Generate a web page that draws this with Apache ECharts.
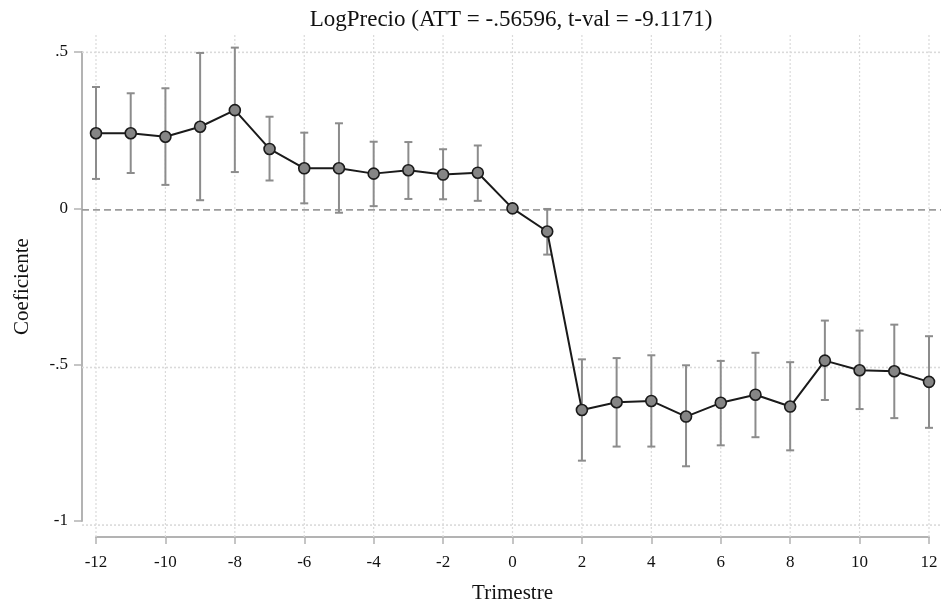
<!DOCTYPE html>
<html>
<head>
<meta charset="utf-8">
<script src="https://cdn.jsdelivr.net/npm/echarts@6/dist/echarts.min.js"></script>
<style>
  html, body { margin: 0; padding: 0; background: #ffffff; }
  #chart { width: 941px; height: 609px; }
</style>
</head>
<body>
<div id="chart"></div>
<script>
// ---- Data ----
const quarters = [-12, -11, -10, -9, -8, -7, -6, -5, -4, -3, -2, -1, 0, 1, 2, 3, 4, 5, 6, 7, 8, 9, 10, 11, 12];
const coef = [0.240, 0.240, 0.229, 0.261, 0.314, 0.190, 0.128, 0.128, 0.111, 0.122, 0.108, 0.114, 0.000, -0.074,
              -0.645, -0.620, -0.616, -0.666, -0.622, -0.596, -0.634, -0.487, -0.518, -0.521, -0.555];
const ciUpper = [0.388, 0.368, 0.384, 0.497, 0.514, 0.293, 0.242, 0.272, 0.213, 0.212, 0.189, 0.201, null, -0.002,
                 -0.483, -0.479, -0.470, -0.502, -0.488, -0.462, -0.492, -0.359, -0.391, -0.372, -0.409];
const ciLower = [0.094, 0.113, 0.075, 0.026, 0.116, 0.089, 0.016, -0.014, 0.007, 0.030, 0.029, 0.024, null, -0.148,
                 -0.807, -0.762, -0.762, -0.825, -0.758, -0.732, -0.774, -0.613, -0.642, -0.671, -0.702];
const xTicks = [-12, -10, -8, -6, -4, -2, 0, 2, 4, 6, 8, 10, 12];
const yTicks = [0.5, 0, -0.5, -1];
const yTickLabels = ['.5', '0', '-.5', '-1'];
const refLine = [0];
const titleText = 'LogPrecio (ATT = -.56596, t-val = -9.1171)';
const xName = 'Trimestre';
const yName = 'Coeficiente';

// ---- Styles ----
const FONT = 'Liberation Serif';
const AXIS_COLOR = '#b3b3b3';
const GRID_COLOR = '#dadada';
const ERR_COLOR = '#8c8c8c';
const LINE_COLOR = '#1a1a1a';

const errData = [];
quarters.forEach((q, i) => {
  if (ciUpper[i] !== null && ciLower[i] !== null) errData.push([q, ciUpper[i], ciLower[i]]);
});
const lineData = quarters.map((q, i) => [q, coef[i]]);
const vGridData = xTicks.map(v => [v, 0]);
const hGridData = yTicks.filter(v => refLine.indexOf(v) < 0).map(v => [0, v]);
const zeroData = refLine.map(v => [0, v]);

function vLineRender(params, api) {
  const cs = params.coordSys;
  const p = api.coord([api.value(0), api.value(1)]);
  return { type: 'line', shape: { x1: p[0], y1: cs.y, x2: p[0], y2: cs.y + cs.height },
           style: { stroke: GRID_COLOR, lineWidth: 1.2, lineDash: [2, 2] } };
}
function hLineRenderFactory(color, width, dash) {
  return function (params, api) {
    const cs = params.coordSys;
    const p = api.coord([api.value(0), api.value(1)]);
    return { type: 'line', shape: { x1: cs.x, y1: p[1], x2: cs.x + cs.width, y2: p[1] },
             style: { stroke: color, lineWidth: width, lineDash: dash } };
  };
}
function errRender(params, api) {
  const x = api.value(0), hi = api.value(1), lo = api.value(2);
  const t = api.coord([x, hi]), b = api.coord([x, lo]);
  const hw = 4;
  const st = { stroke: ERR_COLOR, lineWidth: 2 };
  return { type: 'group', children: [
    { type: 'line', shape: { x1: t[0], y1: t[1], x2: b[0], y2: b[1] }, style: st },
    { type: 'line', shape: { x1: t[0] - hw, y1: t[1], x2: t[0] + hw, y2: t[1] }, style: st },
    { type: 'line', shape: { x1: b[0] - hw, y1: b[1], x2: b[0] + hw, y2: b[1] }, style: st }
  ]};
}

const chart = echarts.init(document.getElementById('chart'), null, { renderer: 'canvas' });
chart.setOption({
  animation: false,
  backgroundColor: '#ffffff',
  title: {
    text: titleText, left: 511, top: 8, padding: 0, textAlign: 'center',
    textStyle: { fontFamily: FONT, fontSize: 23, fontWeight: 'normal', color: '#111' }
  },
  grid: [
    { left: 96, right: 12, top: 52, bottom: 84 },        // data / axes
    { left: 82, right: 0, top: 35, bottom: 71 }          // full plot region (grid lines)
  ],
  xAxis: [
    {
      type: 'value', gridIndex: 0, min: -12, max: 12, interval: 2, offset: 16, position: 'bottom',
      name: xName, nameLocation: 'middle', nameGap: 46,
      nameTextStyle: { fontFamily: FONT, fontSize: 21, color: '#111' },
      axisLine: { show: true, onZero: false, lineStyle: { color: AXIS_COLOR, width: 2 } },
      axisTick: { show: true, length: 7, lineStyle: { color: AXIS_COLOR, width: 1.5 } },
      axisLabel: { margin: 17, fontFamily: FONT, fontSize: 17, color: '#111' },
      splitLine: { show: false }
    },
    {
      type: 'value', gridIndex: 1, min: -12.403, max: 12.346, show: false,
      splitLine: { show: false }
    }
  ],
  yAxis: [
    {
      type: 'value', gridIndex: 0, min: -1, max: 0.5, interval: 0.5, offset: 14, position: 'left',
      name: yName, nameLocation: 'middle', nameGap: 49,
      nameTextStyle: { fontFamily: FONT, fontSize: 21, color: '#111' },
      axisLine: { show: true, onZero: false, lineStyle: { color: AXIS_COLOR, width: 2 } },
      axisTick: { show: true, length: 8, lineStyle: { color: AXIS_COLOR, width: 1.5 } },
      axisLabel: {
        margin: 14, fontFamily: FONT, fontSize: 17, color: '#111',
        formatter: function (v) {
          const idx = yTicks.findIndex(t => Math.abs(t - v) < 1e-9);
          return idx >= 0 ? yTickLabels[idx] : '';
        }
      },
      splitLine: { show: false }
    },
    {
      type: 'value', gridIndex: 1, min: -1.041, max: 0.555, show: false,
      splitLine: { show: false }
    }
  ],
  series: [
    { type: 'custom', xAxisIndex: 1, yAxisIndex: 1, data: vGridData, renderItem: vLineRender,
      encode: { x: 0, y: 1 }, silent: true, z: 1 },
    { type: 'custom', xAxisIndex: 1, yAxisIndex: 1, data: hGridData,
      renderItem: hLineRenderFactory(GRID_COLOR, 1.6, [2, 2]), encode: { x: 0, y: 1 }, silent: true, z: 1 },
    { type: 'custom', xAxisIndex: 1, yAxisIndex: 1, data: zeroData,
      renderItem: hLineRenderFactory('#9c9c9c', 1.6, [7, 4]), encode: { x: 0, y: 1 }, silent: true, z: 2 },
    { type: 'custom', xAxisIndex: 0, yAxisIndex: 0, data: errData, renderItem: errRender,
      encode: { x: 0, y: [1, 2] }, silent: true, z: 3 },
    { type: 'line', xAxisIndex: 0, yAxisIndex: 0, data: lineData, z: 4,
      symbol: 'circle', symbolSize: 11,
      lineStyle: { color: LINE_COLOR, width: 2 },
      itemStyle: { color: '#858585', borderColor: LINE_COLOR, borderWidth: 1.6 } }
  ]
});
</script>
</body>
</html>
